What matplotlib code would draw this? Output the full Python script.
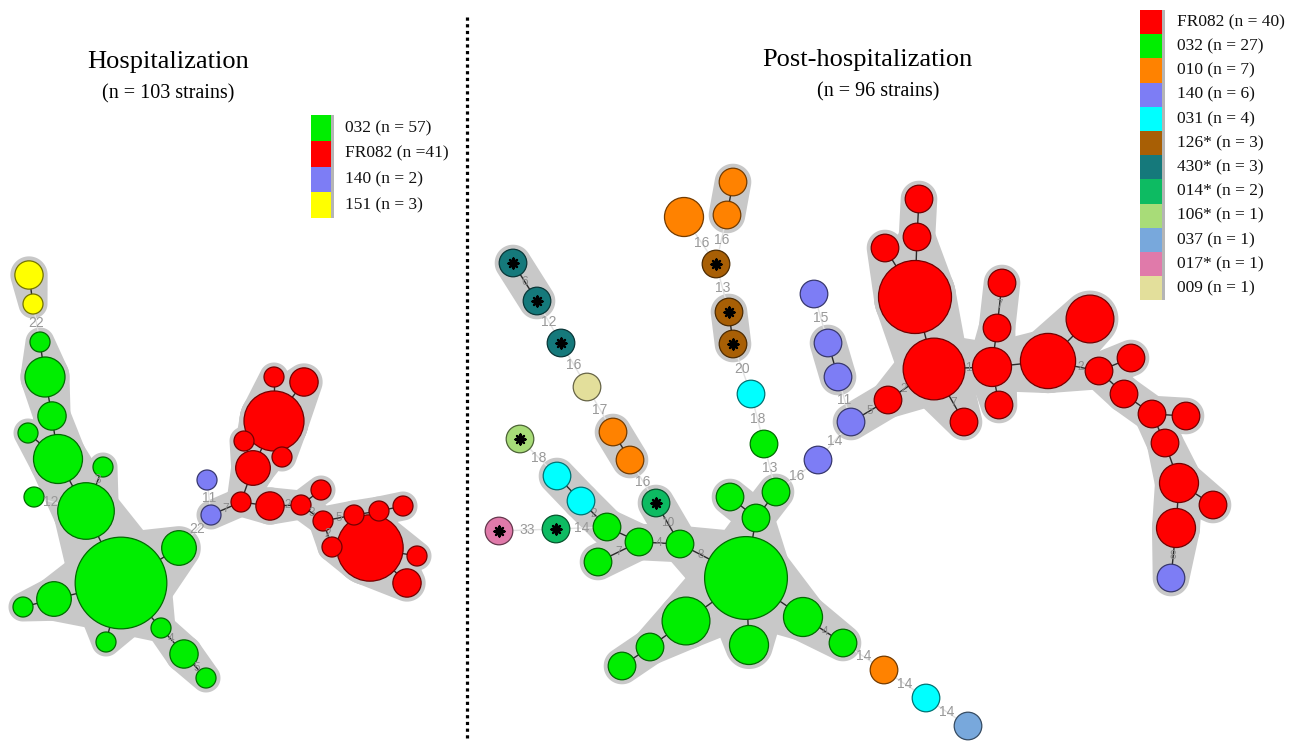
import numpy as np
import matplotlib
matplotlib.use("Agg")
import matplotlib.pyplot as plt
from matplotlib.patches import Circle, Polygon, Rectangle

# ---------------------------------------------------------------
# ribotype colours
# ---------------------------------------------------------------
palette = {
    "032": "#00ee00", "FR082": "#ff0000", "140": "#7d7df5", "151": "#ffff00",
    "010": "#ff8200", "031": "#00ffff", "126": "#a85f05", "430": "#15797b",
    "014": "#0dbb62", "106": "#a8dc78", "037": "#78a8dc", "017": "#e07aaa",
    "009": "#e3df9b",
}
starred = {"126", "430", "014", "106", "017"}

# ---------------------------------------------------------------
# Hospitalization tree (n = 103)
# node layout (picture coords), strains per node, ribotype
# ---------------------------------------------------------------
hosp_x = [29, 33, 40, 45, 52, 28, 58, 103, 34, 86, 121, 179, 54, 23, 106, 161, 184, 206,
          207, 211,
          274, 304, 274, 244, 282, 253, 241, 270, 301, 321, 323, 332, 370, 354, 379, 403, 417, 407]
hosp_y = [275, 304, 342, 377, 416, 433, 459, 467, 497, 511, 583, 548, 599, 607, 642, 628, 654, 678,
          480, 515,
          377, 382, 421, 441, 457, 468, 502, 506, 505, 490, 521, 547, 548, 515, 511, 506, 556, 583]
hosp_n = [2, 1, 1, 4, 2, 1, 6, 1, 1, 8, 21, 3, 3, 1, 1, 1, 2, 1,
          1, 1,
          1, 2, 9, 1, 1, 3, 1, 2, 1, 1, 1, 1, 11, 1, 1, 1, 1, 2]
hosp_type = ["151"] * 2 + ["032"] * 16 + ["140"] * 2 + ["FR082"] * 18
# (from, to, distance label, same cluster)
hosp_edges = [
    (0, 1, "", True), (1, 2, "22", False),
    (2, 3, "", True), (3, 4, "", True), (4, 6, "", True), (5, 6, "", True), (6, 9, "", True),
    (7, 9, "3", True), (8, 9, "12", False), (9, 10, "", True), (10, 11, "", True),
    (10, 12, "", True), (12, 13, "", True), (10, 14, "", True), (10, 15, "", True),
    (15, 16, "4", True), (16, 17, "5", True),
    (11, 19, "22", False), (18, 19, "11", False), (19, 26, "7", True),
    (20, 22, "", True), (21, 22, "", True), (22, 25, "", True), (23, 25, "", True),
    (22, 24, "", True), (25, 26, "", True), (26, 27, "", True), (27, 28, "2", True),
    (28, 29, "", True), (28, 30, "3", True), (30, 33, "5", True), (30, 31, "2", True),
    (31, 32, "", True), (33, 34, "", True), (34, 35, "", True), (32, 36, "", True),
    (32, 37, "", True),
]
hosp_legend = ["032 (n = 57)", "FR082 (n =41)", "140 (n = 2)", "151 (n = 3)"]
hosp_legend_types = ["032", "FR082", "140", "151"]

# ---------------------------------------------------------------
# Post-hospitalization tree (n = 96)
# ---------------------------------------------------------------
post_x = [513, 537, 561, 587, 613, 630, 656, 520, 557, 581, 499, 556, 607, 639, 680, 598,
          716, 729, 733, 751, 764, 730, 776, 756, 746, 686, 650, 622, 749, 803, 843, 884, 926, 968,
          684, 733, 727,
          814, 828, 838, 851, 818,
          888, 934, 915, 917, 919, 885, 1002, 997, 992, 999, 964, 1048, 1090, 1099, 1131, 1124,
          1152, 1186, 1165, 1179, 1213, 1176, 1171]
post_y = [263, 301, 343, 387, 432, 460, 503, 439, 476, 501, 531, 529, 527, 542, 544, 562,
          264, 312, 344, 394, 444, 497, 492, 518, 578, 621, 647, 666, 645, 617, 643, 670, 698, 726,
          217, 182, 215,
          294, 343, 377, 422, 460,
          400, 369, 297, 237, 199, 248, 283, 328, 367, 405, 422, 361, 319, 371, 358, 394,
          414, 416, 443, 483, 505, 528, 578]
post_n = [1, 1, 1, 1, 1, 1, 1, 1, 1, 1, 1, 1, 1, 1, 1, 1,
          1, 1, 1, 1, 1, 1, 1, 1, 9, 3, 1, 1, 2, 2, 1, 1, 1, 1,
          2, 1, 1,
          1, 1, 1, 1, 1,
          1, 5, 7, 1, 1, 1, 1, 1, 2, 1, 1, 4, 3, 1, 1, 1,
          1, 1, 1, 2, 1, 2, 1]
post_type = (["430"] * 3 + ["009", "010", "010", "014", "106", "031", "031", "017", "014"]
             + ["032"] * 4
             + ["126"] * 3 + ["031"] + ["032"] * 11 + ["010", "031", "037"]
             + ["010"] * 3
             + ["140"] * 5
             + ["FR082"] * 22 + ["140"])
post_edges = [
    (0, 1, "6", True), (1, 2, "12", False), (2, 3, "16", False), (3, 4, "17", False),
    (4, 5, "", True), (5, 6, "16", False), (6, 14, "10", True),
    (7, 8, "18", False), (8, 9, "", True), (9, 12, "2", True), (10, 11, "33", False),
    (11, 12, "14", False), (12, 13, "", True), (13, 14, "4", True), (15, 13, "7", True),
    (14, 24, "8", True),
    (34, 16, "16", False), (36, 16, "16", False), (35, 36, "", True), (16, 17, "13", False),
    (17, 18, "", True), (18, 19, "20", False), (19, 20, "18", False), (20, 22, "13", False),
    (21, 23, "", True), (22, 23, "", True), (23, 24, "", True),
    (24, 25, "", True), (25, 26, "", True), (26, 27, "", True), (24, 28, "", True),
    (24, 29, "", True), (29, 30, "4", True), (30, 31, "14", False), (31, 32, "14", False),
    (32, 33, "14", False),
    (22, 41, "16", False), (41, 40, "14", False), (40, 39, "11", False), (39, 38, "", True),
    (38, 37, "15", False), (40, 42, "5", True),
    (42, 43, "2", True), (43, 44, "", True), (44, 45, "", True), (45, 46, "", True),
    (44, 47, "", True), (43, 50, "1", True), (43, 52, "7", True), (50, 49, "", True),
    (49, 48, "7", True), (50, 51, "", True), (50, 53, "", True), (53, 54, "", True),
    (53, 55, "2", True), (55, 56, "", True), (55, 57, "", True), (57, 58, "", True),
    (58, 59, "", True), (58, 60, "", True), (60, 61, "", True), (61, 62, "", True),
    (61, 63, "", True), (63, 64, "8", True),
]
post_legend = ["FR082 (n = 40)", "032 (n = 27)", "010 (n = 7)", "140 (n = 6)", "031 (n = 4)",
               "126* (n = 3)", "430* (n = 3)", "014* (n = 2)", "106* (n = 1)", "037 (n = 1)",
               "017* (n = 1)", "009 (n = 1)"]
post_legend_types = ["FR082", "032", "010", "140", "031", "126", "430", "014", "106", "037",
                     "017", "009"]

HULL = "#c8c8c8"
SERIF = ["Liberation Serif", "DejaVu Serif"]
SANS = ["Liberation Sans", "DejaVu Sans"]


def convex_hull(pts):
    pts = sorted(set(map(tuple, np.round(pts, 3))))

    def cross(o, a, b):
        return (a[0] - o[0]) * (b[1] - o[1]) - (a[1] - o[1]) * (b[0] - o[0])

    lower, upper = [], []
    for p in pts:
        while len(lower) >= 2 and cross(lower[-2], lower[-1], p) <= 0:
            lower.pop()
        lower.append(p)
    for p in reversed(pts):
        while len(upper) >= 2 and cross(upper[-2], upper[-1], p) <= 0:
            upper.pop()
        upper.append(p)
    return np.array(lower[:-1] + upper[:-1])


def capsule(x1, y1, r1, x2, y2, r2, pad=4.5):
    t = np.linspace(0, 2 * np.pi, 72, endpoint=False)
    a = np.c_[x1 + (r1 + pad) * np.cos(t), y1 + (r1 + pad) * np.sin(t)]
    b = np.c_[x2 + (r2 + pad) * np.cos(t), y2 + (r2 + pad) * np.sin(t)]
    return convex_hull(np.vstack([a, b]))


def darker(c, f=0.5):
    rgb = np.array(matplotlib.colors.to_rgb(c))
    return tuple(rgb * f)


def draw_tree(ax, xs, ys, ns, types, edges, base):
    xs, ys = np.array(xs, float), np.array(ys, float)
    rs = base * np.sqrt(np.array(ns, float))

    # gray cluster halos
    for i, j, lab, same in edges:
        if same:
            poly = capsule(xs[i], ys[i], rs[i], xs[j], ys[j], rs[j])
            ax.add_patch(Polygon(poly, closed=True, fc=HULL, ec="none", zorder=1))

    # links
    for i, j, lab, same in edges:
        if same:
            ax.plot([xs[i], xs[j]], [ys[i], ys[j]], color="#2a2a2a", lw=1.0, zorder=2)
        else:
            ax.plot([xs[i], xs[j]], [ys[i], ys[j]], color="#e2e2e2", lw=1.0, zorder=2)

    # nodes
    order = np.argsort(-rs)
    for k in order:
        ax.add_patch(Circle((xs[k], ys[k]), rs[k], fc=palette[types[k]],
                            ec=darker(palette[types[k]], 0.45), lw=0.9, zorder=3))
        if types[k] in starred:
            ax.scatter([xs[k]], [ys[k]], marker=(8, 2, 0), s=50, color="black",
                       linewidths=1.7, zorder=4)

    # distance labels, centred in the visible gap between the two circles
    for i, j, lab, same in edges:
        if not lab:
            continue
        dx, dy = xs[j] - xs[i], ys[j] - ys[i]
        d = np.hypot(dx, dy)
        s = rs[i] + max(d - rs[i] - rs[j], 0) / 2
        mx, my = xs[i] + dx / d * s, ys[i] + dy / d * s
        if same:
            ax.text(mx, my, lab, fontsize=8.5, color="#8a8a8a", ha="center", va="center",
                    family=SANS, zorder=5)
        else:
            ax.text(mx, my, lab, fontsize=10, color="#999999", ha="center", va="center",
                    family=SANS, zorder=5)


def draw_legend(ax, labels, types, x0, y0, w, h, tx):
    for k, (lab, t) in enumerate(zip(labels, types)):
        y = y0 + k * h
        ax.add_patch(Rectangle((x0, y), w, h, fc=palette[t], ec="none", zorder=3))
        ax.text(tx, y + h / 2, lab, fontsize=12.5, family=SERIF, ha="left", va="center",
                color="#111111", zorder=3)
    ax.add_patch(Rectangle((x0 + w, y0), 2.5, h * len(labels), fc="#b5b5b5", ec="none", zorder=3))


fig = plt.figure(figsize=(13.02, 7.42), dpi=100)
ax = fig.add_axes([0, 0, 1, 1])
ax.set_xlim(0, 1302)
ax.set_ylim(742, 0)
ax.axis("off")

draw_tree(ax, hosp_x, hosp_y, hosp_n, hosp_type, hosp_edges, base=10.0)
draw_tree(ax, post_x, post_y, post_n, post_type, post_edges, base=13.8)

draw_legend(ax, hosp_legend, hosp_legend_types, 311, 115, 20, 25.8, 345)
draw_legend(ax, post_legend, post_legend_types, 1140, 10, 22, 24.2, 1177)

# titles
ax.text(168, 62, "Hospitalization", fontsize=19, family=SERIF, ha="center", va="center")
ax.text(168, 94, "(n = 103 strains)", fontsize=14.5, family=SERIF, ha="center", va="center")
ax.text(867, 60, "Post-hospitalization", fontsize=19, family=SERIF, ha="center", va="center")
ax.text(878, 92, "(n = 96 strains)", fontsize=14.5, family=SERIF, ha="center", va="center")

# panel separator
ax.plot([467, 467], [17, 742], color="black", lw=2.3, linestyle=(0, (1, 1.1)), zorder=2)

fig.savefig("out.png", dpi=100)
